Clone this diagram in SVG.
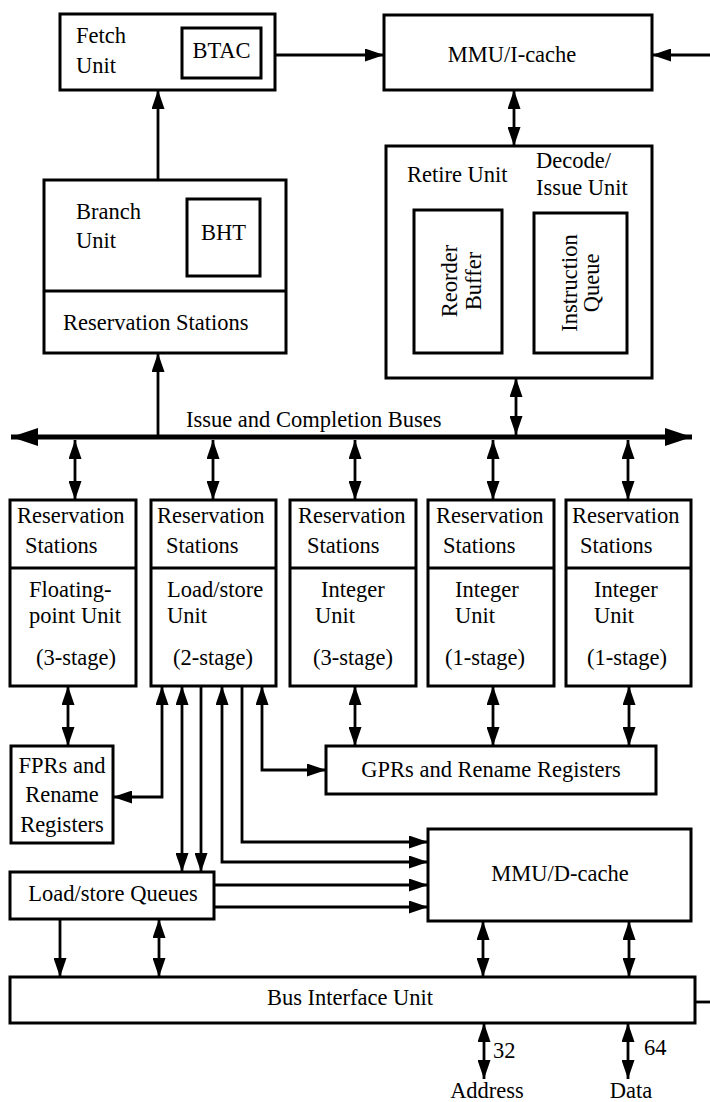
<svg xmlns="http://www.w3.org/2000/svg" width="710" height="1102" viewBox="0 0 710 1102">
  <style>
    .box { fill: #fff; stroke: #000; stroke-width: 3; }
    .div { stroke: #000; stroke-width: 3; fill: none; }
    .ln { stroke: #000; stroke-width: 2.8; fill: none; }
    .bus { stroke: #000; stroke-width: 5; fill: none; }
    text { font-family: "Liberation Serif", "Times New Roman", serif; font-size: 22.5px; fill: #000; }
    .c { text-anchor: middle; }
  </style>
  <defs>
    <marker id="ah" markerUnits="userSpaceOnUse" markerWidth="19" markerHeight="13" refX="19" refY="6.5" orient="auto-start-reverse">
      <path d="M0,0 L19,6.5 L0,13 z" fill="#000"/>
    </marker>
    <marker id="bh" markerUnits="userSpaceOnUse" markerWidth="27" markerHeight="18" refX="27" refY="9" orient="auto-start-reverse">
      <path d="M0,0 L27,9 L0,18 z" fill="#000"/>
    </marker>
  </defs>

  <!-- Fetch unit -->
  <g id="fetch">
    <rect class="box" x="60" y="14" width="215" height="76"/>
    <rect class="box" x="182" y="28" width="79" height="50"/>
    <text x="76" y="43">Fetch</text>
    <text x="76" y="73">Unit</text>
    <text class="c" x="221.5" y="58">BTAC</text>
  </g>

  <!-- Instruction MMU / cache -->
  <g id="icache">
    <rect class="box" x="384" y="15" width="268" height="75"/>
    <text class="c" x="512" y="62">MMU/I-cache</text>
  </g>

  <!-- Retire and decode/issue -->
  <g id="retire">
    <rect class="box" x="386" y="146" width="266" height="232"/>
    <text x="407" y="182">Retire Unit</text>
    <text x="536" y="168">Decode/</text>
    <text x="536" y="195">Issue Unit</text>
    <rect class="box" x="414" y="210" width="88" height="143"/>
    <text class="c" transform="translate(457,281) rotate(-90)"><tspan x="0" y="0">Reorder</tspan><tspan x="0" y="24">Buffer</tspan></text>
    <rect class="box" x="534" y="213" width="93" height="140"/>
    <text class="c" transform="translate(577,283) rotate(-90)"><tspan x="0" y="0">Instruction</tspan><tspan x="0" y="22">Queue</tspan></text>
  </g>

  <!-- Branch unit -->
  <g id="branch">
    <rect class="box" x="44" y="180" width="242" height="173"/>
    <line class="div" x1="44" y1="291" x2="286" y2="291"/>
    <rect class="box" x="187" y="199" width="73" height="77"/>
    <text x="76" y="219">Branch</text>
    <text x="76" y="248">Unit</text>
    <text class="c" x="223.5" y="240">BHT</text>
    <text x="63" y="330">Reservation Stations</text>
  </g>

  <!-- Execution units -->
  <g id="fpu">
    <rect class="box" x="10" y="500" width="126" height="186"/>
    <line class="div" x1="10" y1="568" x2="136" y2="568"/>
    <text x="17" y="523">Reservation</text>
    <text x="25" y="553">Stations</text>
    <text x="29" y="597">Floating-</text>
    <text x="29" y="623">point Unit</text>
    <text class="c" x="76" y="665">(3-stage)</text>
  </g>
  <g id="lsu">
    <rect class="box" x="151" y="500" width="125" height="186"/>
    <line class="div" x1="151" y1="568" x2="276" y2="568"/>
    <text x="157" y="523">Reservation</text>
    <text x="166" y="553">Stations</text>
    <text x="167" y="597">Load/store</text>
    <text x="167" y="623">Unit</text>
    <text class="c" x="213" y="665">(2-stage)</text>
  </g>
  <g id="iu1">
    <rect class="box" x="290" y="500" width="126" height="186"/>
    <line class="div" x1="290" y1="568" x2="416" y2="568"/>
    <text x="298" y="523">Reservation</text>
    <text x="307" y="553">Stations</text>
    <text x="321" y="597">Integer</text>
    <text x="315" y="623">Unit</text>
    <text class="c" x="353" y="665">(3-stage)</text>
  </g>
  <g id="iu2">
    <rect class="box" x="428" y="500" width="126" height="186"/>
    <line class="div" x1="428" y1="568" x2="554" y2="568"/>
    <text x="436" y="523">Reservation</text>
    <text x="443" y="553">Stations</text>
    <text x="455" y="597">Integer</text>
    <text x="455" y="623">Unit</text>
    <text class="c" x="485" y="665">(1-stage)</text>
  </g>
  <g id="iu3">
    <rect class="box" x="566" y="500" width="125" height="186"/>
    <line class="div" x1="566" y1="568" x2="691" y2="568"/>
    <text x="572" y="523">Reservation</text>
    <text x="580" y="553">Stations</text>
    <text x="594" y="597">Integer</text>
    <text x="594" y="623">Unit</text>
    <text class="c" x="627" y="665">(1-stage)</text>
  </g>

  <!-- Register files -->
  <g id="fprs">
    <rect class="box" x="11" y="746" width="102" height="97"/>
    <text class="c" x="62" y="773">FPRs and</text>
    <text class="c" x="62" y="802">Rename</text>
    <text class="c" x="62" y="832">Registers</text>
  </g>
  <g id="gprs">
    <rect class="box" x="326" y="746" width="330" height="48"/>
    <text class="c" x="491" y="777">GPRs and Rename Registers</text>
  </g>

  <!-- Data side -->
  <g id="dcache">
    <rect class="box" x="428" y="829" width="263" height="92"/>
    <text class="c" x="560" y="881">MMU/D-cache</text>
  </g>
  <g id="lsq">
    <rect class="box" x="10" y="872" width="204" height="47"/>
    <text class="c" x="113" y="901">Load/store Queues</text>
  </g>
  <g id="biu">
    <rect class="box" x="10" y="977" width="685" height="46"/>
    <text class="c" x="350" y="1005">Bus Interface Unit</text>
  </g>

  <!-- Connectors -->
  <g id="connectors">
    <path class="ln" d="M275,55 H384" marker-end="url(#ah)"/>
    <path class="ln" d="M710,55 H652" marker-end="url(#ah)"/>
    <path class="ln" d="M514,90 V146" marker-start="url(#ah)" marker-end="url(#ah)"/>
    <path class="ln" d="M158,180 V90" marker-end="url(#ah)"/>
    <path class="ln" d="M158,435 V353" marker-end="url(#ah)"/>
    <path class="ln" d="M516,378 V435" marker-start="url(#ah)" marker-end="url(#ah)"/>

    <path class="bus" d="M11,437 H692" marker-start="url(#bh)" marker-end="url(#bh)"/>
    <text x="186" y="427">Issue and Completion Buses</text>

    <path class="ln" d="M75,440 V500" marker-start="url(#ah)" marker-end="url(#ah)"/>
    <path class="ln" d="M213,440 V500" marker-start="url(#ah)" marker-end="url(#ah)"/>
    <path class="ln" d="M355,440 V500" marker-start="url(#ah)" marker-end="url(#ah)"/>
    <path class="ln" d="M493,440 V500" marker-start="url(#ah)" marker-end="url(#ah)"/>
    <path class="ln" d="M628,440 V500" marker-start="url(#ah)" marker-end="url(#ah)"/>

    <path class="ln" d="M68,686 V746" marker-start="url(#ah)" marker-end="url(#ah)"/>
    <path class="ln" d="M355,686 V746" marker-start="url(#ah)" marker-end="url(#ah)"/>
    <path class="ln" d="M493,686 V746" marker-start="url(#ah)" marker-end="url(#ah)"/>
    <path class="ln" d="M629,686 V746" marker-start="url(#ah)" marker-end="url(#ah)"/>

    <path class="ln" d="M113,797 H162 V686" marker-start="url(#ah)" marker-end="url(#ah)"/>
    <path class="ln" d="M182,686 V872" marker-start="url(#ah)" marker-end="url(#ah)"/>
    <path class="ln" d="M201,686 V872" marker-end="url(#ah)"/>
    <path class="ln" d="M222,686 V862 H428" marker-start="url(#ah)" marker-end="url(#ah)"/>
    <path class="ln" d="M242,686 V842 H428" marker-end="url(#ah)"/>
    <path class="ln" d="M262,686 V770 H326" marker-start="url(#ah)" marker-end="url(#ah)"/>

    <path class="ln" d="M214,885 H428" marker-end="url(#ah)"/>
    <path class="ln" d="M214,907 H428" marker-end="url(#ah)"/>

    <path class="ln" d="M60,919 V977" marker-end="url(#ah)"/>
    <path class="ln" d="M159,919 V977" marker-start="url(#ah)" marker-end="url(#ah)"/>
    <path class="ln" d="M483,921 V977" marker-start="url(#ah)" marker-end="url(#ah)"/>
    <path class="ln" d="M629,921 V977" marker-start="url(#ah)" marker-end="url(#ah)"/>

    <path class="ln" d="M695,1002 H710"/>

    <path class="ln" d="M484,1023 V1079" marker-start="url(#ah)" marker-end="url(#ah)"/>
    <path class="ln" d="M628,1023 V1079" marker-start="url(#ah)" marker-end="url(#ah)"/>
    <text x="493" y="1058">32</text>
    <text x="644" y="1055">64</text>
    <text class="c" x="487" y="1098">Address</text>
    <text class="c" x="631" y="1098">Data</text>
  </g>
</svg>
